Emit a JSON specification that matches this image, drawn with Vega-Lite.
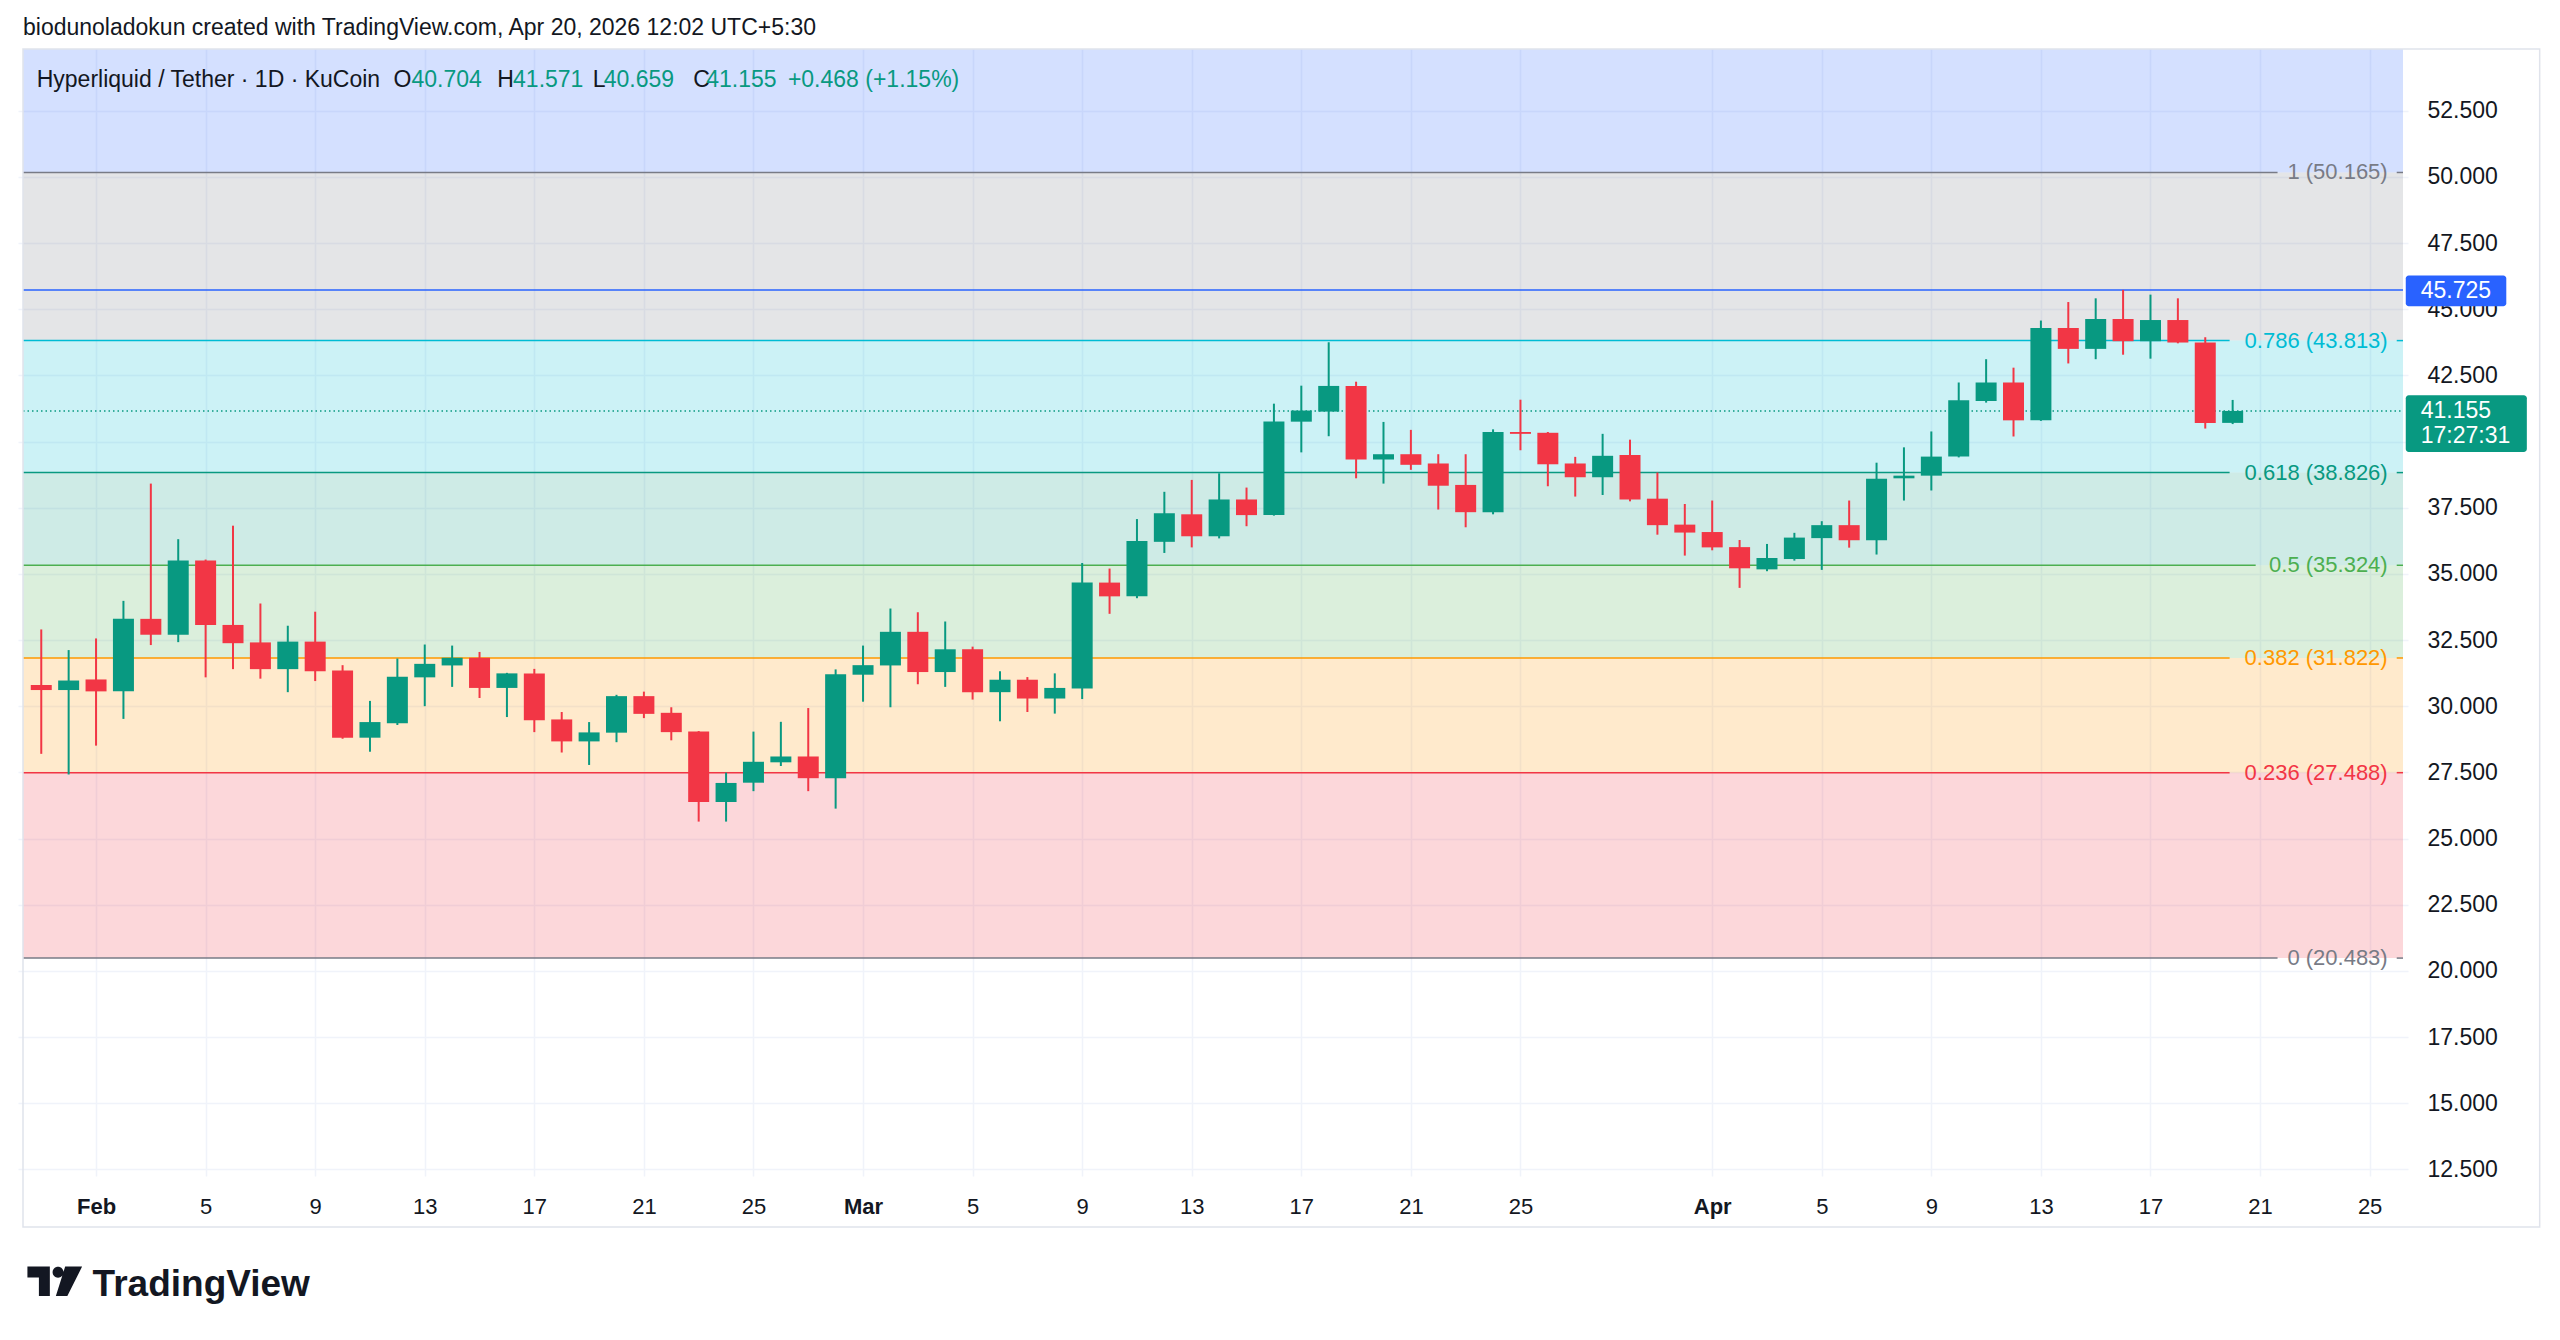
{
  "$schema": "https://vega.github.io/schema/vega-lite/v6.json",
  "autosize": {"type": "none"},
  "width": 2390,
  "height": 1127,
  "padding": {"left": 18, "top": 49, "right": 152, "bottom": 164},
  "background": "white",
  "datasets": {
    "candles": [
      {"date": "2026-01-30", "open": 30.80, "high": 32.90, "low": 28.20, "close": 30.61},
      {"date": "2026-01-31", "open": 30.61, "high": 32.12, "low": 27.42, "close": 30.97},
      {"date": "2026-02-01", "open": 31.01, "high": 32.56, "low": 28.51, "close": 30.56},
      {"date": "2026-02-02", "open": 30.56, "high": 33.98, "low": 29.52, "close": 33.30},
      {"date": "2026-02-03", "open": 33.30, "high": 38.41, "low": 32.31, "close": 32.70},
      {"date": "2026-02-04", "open": 32.70, "high": 36.31, "low": 32.42, "close": 35.50},
      {"date": "2026-02-05", "open": 35.50, "high": 35.54, "low": 31.09, "close": 33.07},
      {"date": "2026-02-06", "open": 33.07, "high": 36.82, "low": 31.40, "close": 32.38},
      {"date": "2026-02-07", "open": 32.41, "high": 33.88, "low": 31.04, "close": 31.40},
      {"date": "2026-02-08", "open": 31.40, "high": 33.04, "low": 30.53, "close": 32.44},
      {"date": "2026-02-09", "open": 32.44, "high": 33.57, "low": 30.95, "close": 31.32},
      {"date": "2026-02-10", "open": 31.35, "high": 31.55, "low": 28.77, "close": 28.81},
      {"date": "2026-02-11", "open": 28.81, "high": 30.20, "low": 28.28, "close": 29.40},
      {"date": "2026-02-12", "open": 29.36, "high": 31.80, "low": 29.29, "close": 31.11},
      {"date": "2026-02-13", "open": 31.09, "high": 32.33, "low": 30.00, "close": 31.60},
      {"date": "2026-02-14", "open": 31.54, "high": 32.29, "low": 30.73, "close": 31.83},
      {"date": "2026-02-15", "open": 31.83, "high": 32.05, "low": 30.31, "close": 30.69},
      {"date": "2026-02-16", "open": 30.69, "high": 31.26, "low": 29.59, "close": 31.24},
      {"date": "2026-02-17", "open": 31.24, "high": 31.41, "low": 29.02, "close": 29.47},
      {"date": "2026-02-18", "open": 29.50, "high": 29.78, "low": 28.25, "close": 28.67},
      {"date": "2026-02-19", "open": 28.67, "high": 29.40, "low": 27.78, "close": 29.01},
      {"date": "2026-02-20", "open": 29.00, "high": 30.43, "low": 28.64, "close": 30.38},
      {"date": "2026-02-21", "open": 30.38, "high": 30.55, "low": 29.55, "close": 29.71},
      {"date": "2026-02-22", "open": 29.75, "high": 29.96, "low": 28.71, "close": 29.02},
      {"date": "2026-02-23", "open": 29.04, "high": 29.06, "low": 25.64, "close": 26.38},
      {"date": "2026-02-24", "open": 26.38, "high": 27.49, "low": 25.64, "close": 27.10},
      {"date": "2026-02-25", "open": 27.11, "high": 29.04, "low": 26.79, "close": 27.90},
      {"date": "2026-02-26", "open": 27.88, "high": 29.41, "low": 27.74, "close": 28.10},
      {"date": "2026-02-27", "open": 28.10, "high": 29.93, "low": 26.79, "close": 27.28},
      {"date": "2026-02-28", "open": 27.28, "high": 31.39, "low": 26.13, "close": 31.21},
      {"date": "2026-03-01", "open": 31.19, "high": 32.29, "low": 30.17, "close": 31.55},
      {"date": "2026-03-02", "open": 31.54, "high": 33.69, "low": 29.96, "close": 32.81},
      {"date": "2026-03-03", "open": 32.81, "high": 33.55, "low": 30.83, "close": 31.29},
      {"date": "2026-03-04", "open": 31.29, "high": 33.20, "low": 30.73, "close": 32.15},
      {"date": "2026-03-05", "open": 32.15, "high": 32.25, "low": 30.25, "close": 30.53},
      {"date": "2026-03-06", "open": 30.53, "high": 31.32, "low": 29.43, "close": 31.00},
      {"date": "2026-03-07", "open": 31.00, "high": 31.10, "low": 29.78, "close": 30.29},
      {"date": "2026-03-08", "open": 30.29, "high": 31.24, "low": 29.72, "close": 30.69},
      {"date": "2026-03-09", "open": 30.67, "high": 35.41, "low": 30.27, "close": 34.67},
      {"date": "2026-03-10", "open": 34.67, "high": 35.20, "low": 33.49, "close": 34.15},
      {"date": "2026-03-11", "open": 34.15, "high": 37.07, "low": 34.08, "close": 36.24},
      {"date": "2026-03-12", "open": 36.21, "high": 38.10, "low": 35.79, "close": 37.29},
      {"date": "2026-03-13", "open": 37.25, "high": 38.55, "low": 36.00, "close": 36.42},
      {"date": "2026-03-14", "open": 36.42, "high": 38.80, "low": 36.34, "close": 37.81},
      {"date": "2026-03-15", "open": 37.81, "high": 38.26, "low": 36.80, "close": 37.22},
      {"date": "2026-03-16", "open": 37.22, "high": 41.43, "low": 37.20, "close": 40.76},
      {"date": "2026-03-17", "open": 40.75, "high": 42.11, "low": 39.59, "close": 41.17},
      {"date": "2026-03-18", "open": 41.13, "high": 43.75, "low": 40.20, "close": 42.10},
      {"date": "2026-03-19", "open": 42.10, "high": 42.26, "low": 38.61, "close": 39.32},
      {"date": "2026-03-20", "open": 39.32, "high": 40.74, "low": 38.41, "close": 39.52},
      {"date": "2026-03-21", "open": 39.52, "high": 40.44, "low": 38.93, "close": 39.12},
      {"date": "2026-03-22", "open": 39.17, "high": 39.52, "low": 37.43, "close": 38.33},
      {"date": "2026-03-23", "open": 38.36, "high": 39.52, "low": 36.76, "close": 37.33},
      {"date": "2026-03-24", "open": 37.33, "high": 40.46, "low": 37.25, "close": 40.36},
      {"date": "2026-03-25", "open": 40.36, "high": 41.58, "low": 39.67, "close": 40.29},
      {"date": "2026-03-26", "open": 40.33, "high": 40.36, "low": 38.31, "close": 39.14},
      {"date": "2026-03-27", "open": 39.17, "high": 39.42, "low": 37.92, "close": 38.65},
      {"date": "2026-03-28", "open": 38.65, "high": 40.29, "low": 37.98, "close": 39.46},
      {"date": "2026-03-29", "open": 39.49, "high": 40.07, "low": 37.74, "close": 37.81},
      {"date": "2026-03-30", "open": 37.84, "high": 38.83, "low": 36.48, "close": 36.84},
      {"date": "2026-03-31", "open": 36.86, "high": 37.64, "low": 35.69, "close": 36.56},
      {"date": "2026-04-01", "open": 36.58, "high": 37.77, "low": 35.89, "close": 36.00},
      {"date": "2026-04-02", "open": 36.01, "high": 36.28, "low": 34.47, "close": 35.21},
      {"date": "2026-04-03", "open": 35.17, "high": 36.13, "low": 35.10, "close": 35.60},
      {"date": "2026-04-04", "open": 35.56, "high": 36.55, "low": 35.50, "close": 36.37},
      {"date": "2026-04-05", "open": 36.35, "high": 36.99, "low": 35.15, "close": 36.84},
      {"date": "2026-04-06", "open": 36.84, "high": 37.77, "low": 35.99, "close": 36.27},
      {"date": "2026-04-07", "open": 36.27, "high": 39.20, "low": 35.73, "close": 38.59},
      {"date": "2026-04-08", "open": 38.61, "high": 39.78, "low": 37.77, "close": 38.71},
      {"date": "2026-04-09", "open": 38.71, "high": 40.38, "low": 38.15, "close": 39.43},
      {"date": "2026-04-10", "open": 39.43, "high": 42.23, "low": 39.40, "close": 41.56},
      {"date": "2026-04-11", "open": 41.53, "high": 43.11, "low": 41.47, "close": 42.23},
      {"date": "2026-04-12", "open": 42.23, "high": 42.79, "low": 40.19, "close": 40.80},
      {"date": "2026-04-13", "open": 40.80, "high": 44.57, "low": 40.78, "close": 44.29},
      {"date": "2026-04-14", "open": 44.29, "high": 45.27, "low": 42.95, "close": 43.50},
      {"date": "2026-04-15", "open": 43.50, "high": 45.41, "low": 43.11, "close": 44.63},
      {"date": "2026-04-16", "open": 44.63, "high": 45.73, "low": 43.28, "close": 43.79},
      {"date": "2026-04-17", "open": 43.79, "high": 45.55, "low": 43.13, "close": 44.59},
      {"date": "2026-04-18", "open": 44.59, "high": 45.41, "low": 43.71, "close": 43.74},
      {"date": "2026-04-19", "open": 43.74, "high": 43.94, "low": 40.49, "close": 40.70},
      {"date": "2026-04-20", "open": 40.704, "high": 41.571, "low": 40.659, "close": 41.155}
    ],
    "fib": [
      {"level": "1.618", "price": 68.51, "lower": 50.165},
      {"level": "1", "price": 50.165, "lower": 43.813, "label": "1 (50.165)"},
      {"level": "0.786", "price": 43.813, "lower": 38.826, "label": "0.786 (43.813)"},
      {"level": "0.618", "price": 38.826, "lower": 35.324, "label": "0.618 (38.826)"},
      {"level": "0.5", "price": 35.324, "lower": 31.822, "label": "0.5 (35.324)"},
      {"level": "0.382", "price": 31.822, "lower": 27.488, "label": "0.382 (31.822)"},
      {"level": "0.236", "price": 27.488, "lower": 20.483, "label": "0.236 (27.488)"},
      {"level": "0", "price": 20.483, "label": "0 (20.483)"}
    ]
  },
  "layer": [
    {
      "data": {"name": "fib"},
      "transform": [{"filter": "isValid(datum.lower)"}],
      "mark": {"type": "rect", "opacity": 0.2, "clip": true},
      "encoding": {
        "x": {"datum": {"year": 2026, "month": 1, "date": 29, "hours": 8, "utc": true}, "type": "temporal"},
        "x2": {"datum": {"year": 2026, "month": 4, "date": 26, "hours": 5, "minutes": 15, "utc": true}},
        "y": {"field": "price", "type": "quantitative"},
        "y2": {"field": "lower"},
        "color": {
          "field": "level",
          "type": "nominal",
          "legend": null,
          "scale": {
            "domain": ["1.618", "1", "0.786", "0.618", "0.5", "0.382", "0.236", "0"],
            "range": ["#2962ff", "#787b86", "#00bcd4", "#089981", "#4caf50", "#ff9800", "#f23645", "#787b86"]
          }
        }
      }
    },
    {
      "data": {"name": "fib"},
      "transform": [{"filter": "indexof(['0.786', '0.618', '0.382', '0.236'], datum.level) >= 0"}],
      "mark": {"type": "rule", "strokeWidth": 1.5},
      "encoding": {
        "x": {"datum": {"year": 2026, "month": 1, "date": 29, "hours": 8, "utc": true}, "type": "temporal"},
        "x2": {"datum": {"year": 2026, "month": 4, "date": 19, "hours": 21, "minutes": 20, "utc": true}},
        "y": {"field": "price", "type": "quantitative"},
        "color": {"field": "level", "type": "nominal", "legend": null}
      }
    },
    {
      "data": {"name": "fib"},
      "transform": [{"filter": "datum.level == '0.5'"}],
      "mark": {"type": "rule", "strokeWidth": 1.5},
      "encoding": {
        "x": {"datum": {"year": 2026, "month": 1, "date": 29, "hours": 8, "utc": true}, "type": "temporal"},
        "x2": {"datum": {"year": 2026, "month": 4, "date": 20, "hours": 20, "minutes": 10, "utc": true}},
        "y": {"field": "price", "type": "quantitative"},
        "color": {"field": "level", "type": "nominal", "legend": null}
      }
    },
    {
      "data": {"name": "fib"},
      "transform": [{"filter": "datum.level == '1' || datum.level == '0'"}],
      "mark": {"type": "rule", "strokeWidth": 1.5},
      "encoding": {
        "x": {"datum": {"year": 2026, "month": 1, "date": 29, "hours": 8, "utc": true}, "type": "temporal"},
        "x2": {"datum": {"year": 2026, "month": 4, "date": 21, "hours": 15, "minutes": 20, "utc": true}},
        "y": {"field": "price", "type": "quantitative"},
        "color": {"field": "level", "type": "nominal", "legend": null}
      }
    },
    {
      "data": {"name": "fib"},
      "transform": [{"filter": "isValid(datum.label)"}],
      "mark": {"type": "rule", "strokeWidth": 1.5},
      "encoding": {
        "x": {"datum": {"year": 2026, "month": 4, "date": 25, "hours": 23, "minutes": 45, "utc": true}, "type": "temporal"},
        "x2": {"datum": {"year": 2026, "month": 4, "date": 26, "hours": 5, "minutes": 15, "utc": true}},
        "y": {"field": "price", "type": "quantitative"},
        "color": {"field": "level", "type": "nominal", "legend": null}
      }
    },
    {
      "data": {"name": "fib"},
      "transform": [{"filter": "isValid(datum.label)"}],
      "mark": {"type": "text", "align": "right", "baseline": "middle", "font": "Liberation Sans", "fontSize": 22},
      "encoding": {
        "x": {"datum": {"year": 2026, "month": 4, "date": 25, "hours": 15, "minutes": 50, "utc": true}, "type": "temporal"},
        "y": {"field": "price", "type": "quantitative"},
        "text": {"field": "label"},
        "color": {"field": "level", "type": "nominal", "legend": null}
      }
    },
    {
      "data": {"values": [{}]},
      "mark": {"type": "rule", "color": "#2962ff", "strokeWidth": 1.5},
      "encoding": {
        "x": {"datum": {"year": 2026, "month": 1, "date": 29, "hours": 8, "utc": true}, "type": "temporal"},
        "x2": {"datum": {"year": 2026, "month": 4, "date": 26, "hours": 5, "minutes": 15, "utc": true}},
        "y": {"datum": 45.725, "type": "quantitative"}
      }
    },
    {
      "data": {"values": [{}]},
      "mark": {"type": "rule", "color": "#089981", "strokeWidth": 1.5, "strokeDash": [1.5, 3]},
      "encoding": {
        "x": {"datum": {"year": 2026, "month": 1, "date": 29, "hours": 8, "utc": true}, "type": "temporal"},
        "x2": {"datum": {"year": 2026, "month": 4, "date": 26, "hours": 5, "minutes": 15, "utc": true}},
        "y": {"datum": 41.155, "type": "quantitative"}
      }
    },
    {
      "data": {"name": "candles"},
      "mark": {"type": "rule", "strokeWidth": 2},
      "encoding": {
        "x": {
          "field": "date",
          "type": "temporal",
          "scale": {
            "type": "utc",
            "domain": [
              {"year": 2026, "month": 1, "date": 29, "hours": 8, "utc": true},
              {"year": 2026, "month": 4, "date": 26, "hours": 5, "minutes": 15, "utc": true}
            ],
            "nice": false
          },
          "axis": {
            "title": null,
            "values": [
              {"year": 2026, "month": 2, "date": 1, "utc": true},
              {"year": 2026, "month": 2, "date": 5, "utc": true},
              {"year": 2026, "month": 2, "date": 9, "utc": true},
              {"year": 2026, "month": 2, "date": 13, "utc": true},
              {"year": 2026, "month": 2, "date": 17, "utc": true},
              {"year": 2026, "month": 2, "date": 21, "utc": true},
              {"year": 2026, "month": 2, "date": 25, "utc": true},
              {"year": 2026, "month": 3, "date": 1, "utc": true},
              {"year": 2026, "month": 3, "date": 5, "utc": true},
              {"year": 2026, "month": 3, "date": 9, "utc": true},
              {"year": 2026, "month": 3, "date": 13, "utc": true},
              {"year": 2026, "month": 3, "date": 17, "utc": true},
              {"year": 2026, "month": 3, "date": 21, "utc": true},
              {"year": 2026, "month": 3, "date": 25, "utc": true},
              {"year": 2026, "month": 4, "date": 1, "utc": true},
              {"year": 2026, "month": 4, "date": 5, "utc": true},
              {"year": 2026, "month": 4, "date": 9, "utc": true},
              {"year": 2026, "month": 4, "date": 13, "utc": true},
              {"year": 2026, "month": 4, "date": 17, "utc": true},
              {"year": 2026, "month": 4, "date": 21, "utc": true},
              {"year": 2026, "month": 4, "date": 25, "utc": true}
            ],
            "labelExpr": "utcdate(datum.value) == 1 ? utcFormat(datum.value, '%b') : '' + utcdate(datum.value)",
            "labelFontWeight": {"condition": {"test": "utcdate(datum.value) == 1", "value": "bold"}, "value": "normal"},
            "labelFont": "Liberation Sans",
            "labelFontSize": 22,
            "labelColor": "#131722",
            "labelBaseline": "middle",
            "labelPadding": 30,
            "labelOverlap": false,
            "labelFlush": false,
            "domain": false,
            "ticks": false,
            "grid": true,
            "gridColor": "#f0f3fa",
            "gridWidth": 1.5
          }
        },
        "y": {
          "field": "low",
          "type": "quantitative",
          "scale": {"domain": [12.25, 54.83], "nice": false, "zero": false},
          "axis": {
            "orient": "right",
            "title": null,
            "values": [12.5, 15, 17.5, 20, 22.5, 25, 27.5, 30, 32.5, 35, 37.5, 40, 42.5, 45, 47.5, 50, 52.5],
            "labelExpr": "datum.value == 40 ? '' : format(datum.value, '.3f')",
            "labelFont": "Liberation Sans",
            "labelFontSize": 23,
            "labelColor": "#131722",
            "labelPadding": 19,
            "labelOverlap": false,
            "labelFlush": false,
            "domain": false,
            "ticks": false,
            "grid": true,
            "gridColor": "#f0f3fa",
            "gridWidth": 1.5
          }
        },
        "y2": {"field": "high"},
        "color": {"condition": {"test": "datum.close >= datum.open", "value": "#089981"}, "value": "#f23645"}
      }
    },
    {
      "data": {"name": "candles"},
      "mark": {"type": "bar", "size": 21},
      "encoding": {
        "x": {"field": "date", "type": "temporal"},
        "y": {"field": "open", "type": "quantitative"},
        "y2": {"field": "close"},
        "color": {"condition": {"test": "datum.close >= datum.open", "value": "#089981"}, "value": "#f23645"}
      }
    },
    {
      "data": {"values": [{}]},
      "mark": {"type": "rect", "color": "#2962ff", "cornerRadius": 3},
      "encoding": {
        "x": {"datum": {"year": 2026, "month": 4, "date": 26, "hours": 7, "minutes": 40, "utc": true}, "type": "temporal"},
        "x2": {"datum": {"year": 2026, "month": 4, "date": 29, "hours": 23, "minutes": 45, "utc": true}},
        "y": {"datum": 46.27, "type": "quantitative"},
        "y2": {"datum": 45.11}
      }
    },
    {
      "data": {"values": [{}]},
      "mark": {"type": "text", "align": "left", "baseline": "middle", "font": "Liberation Sans", "fontSize": 23, "color": "white"},
      "encoding": {
        "x": {"datum": {"year": 2026, "month": 4, "date": 26, "hours": 20, "minutes": 50, "utc": true}, "type": "temporal"},
        "y": {"datum": 45.70, "type": "quantitative"},
        "text": {"value": "45.725"}
      }
    },
    {
      "data": {"values": [{}]},
      "mark": {"type": "rect", "color": "#089981", "cornerRadius": 3},
      "encoding": {
        "x": {"datum": {"year": 2026, "month": 4, "date": 26, "hours": 7, "minutes": 40, "utc": true}, "type": "temporal"},
        "x2": {"datum": {"year": 2026, "month": 4, "date": 30, "hours": 17, "minutes": 45, "utc": true}},
        "y": {"datum": 41.75, "type": "quantitative"},
        "y2": {"datum": 39.60}
      }
    },
    {
      "data": {"values": [{}]},
      "mark": {"type": "text", "align": "left", "baseline": "middle", "font": "Liberation Sans", "fontSize": 23, "color": "white"},
      "encoding": {
        "x": {"datum": {"year": 2026, "month": 4, "date": 26, "hours": 20, "minutes": 50, "utc": true}, "type": "temporal"},
        "y": {"datum": 41.14, "type": "quantitative"},
        "text": {"value": "41.155"}
      }
    },
    {
      "data": {"values": [{}]},
      "mark": {"type": "text", "align": "left", "baseline": "middle", "font": "Liberation Sans", "fontSize": 23, "color": "white"},
      "encoding": {
        "x": {"datum": {"year": 2026, "month": 4, "date": 26, "hours": 20, "minutes": 50, "utc": true}, "type": "temporal"},
        "y": {"datum": 40.20, "type": "quantitative"},
        "text": {"value": "17:27:31"}
      }
    },
    {
      "data": {"values": [{}]},
      "mark": {"type": "text", "align": "left", "baseline": "middle", "font": "Liberation Sans", "fontSize": 23, "color": "#131722"},
      "encoding": {
        "x": {"datum": {"year": 2026, "month": 1, "date": 29, "hours": 8, "utc": true}, "type": "temporal"},
        "y": {"datum": 55.61, "type": "quantitative"},
        "text": {"value": "biodunoladokun created with TradingView.com, Apr 20, 2026 12:02 UTC+5:30"}
      }
    },
    {
      "data": {"values": [{}]},
      "mark": {"type": "text", "align": "left", "baseline": "middle", "font": "Liberation Sans", "fontSize": 23, "color": "#131722"},
      "encoding": {
        "x": {"datum": {"year": 2026, "month": 1, "date": 29, "hours": 20, "utc": true}, "type": "temporal"},
        "y": {"datum": 53.66, "type": "quantitative"},
        "text": {"value": "Hyperliquid / Tether · 1D · KuCoin"}
      }
    },
    {
      "data": {"values": [{}]},
      "mark": {"type": "text", "align": "left", "baseline": "middle", "font": "Liberation Sans", "fontSize": 23, "color": "#131722"},
      "encoding": {
        "x": {"datum": {"year": 2026, "month": 2, "date": 11, "hours": 20, "minutes": 40, "utc": true}, "type": "temporal"},
        "y": {"datum": 53.66, "type": "quantitative"},
        "text": {"value": "O"}
      }
    },
    {
      "data": {"values": [{}]},
      "mark": {"type": "text", "align": "left", "baseline": "middle", "font": "Liberation Sans", "fontSize": 23, "color": "#089981"},
      "encoding": {
        "x": {"datum": {"year": 2026, "month": 2, "date": 12, "hours": 12, "minutes": 23, "utc": true}, "type": "temporal"},
        "y": {"datum": 53.66, "type": "quantitative"},
        "text": {"value": "40.704"}
      }
    },
    {
      "data": {"values": [{}]},
      "mark": {"type": "text", "align": "left", "baseline": "middle", "font": "Liberation Sans", "fontSize": 23, "color": "#131722"},
      "encoding": {
        "x": {"datum": {"year": 2026, "month": 2, "date": 15, "hours": 15, "minutes": 25, "utc": true}, "type": "temporal"},
        "y": {"datum": 53.66, "type": "quantitative"},
        "text": {"value": "H"}
      }
    },
    {
      "data": {"values": [{}]},
      "mark": {"type": "text", "align": "left", "baseline": "middle", "font": "Liberation Sans", "fontSize": 23, "color": "#089981"},
      "encoding": {
        "x": {"datum": {"year": 2026, "month": 2, "date": 16, "hours": 5, "minutes": 22, "utc": true}, "type": "temporal"},
        "y": {"datum": 53.66, "type": "quantitative"},
        "text": {"value": "41.571"}
      }
    },
    {
      "data": {"values": [{}]},
      "mark": {"type": "text", "align": "left", "baseline": "middle", "font": "Liberation Sans", "fontSize": 23, "color": "#131722"},
      "encoding": {
        "x": {"datum": {"year": 2026, "month": 2, "date": 19, "hours": 3, "minutes": 10, "utc": true}, "type": "temporal"},
        "y": {"datum": 53.66, "type": "quantitative"},
        "text": {"value": "L"}
      }
    },
    {
      "data": {"values": [{}]},
      "mark": {"type": "text", "align": "left", "baseline": "middle", "font": "Liberation Sans", "fontSize": 23, "color": "#089981"},
      "encoding": {
        "x": {"datum": {"year": 2026, "month": 2, "date": 19, "hours": 12, "minutes": 46, "utc": true}, "type": "temporal"},
        "y": {"datum": 53.66, "type": "quantitative"},
        "text": {"value": "40.659"}
      }
    },
    {
      "data": {"values": [{}]},
      "mark": {"type": "text", "align": "left", "baseline": "middle", "font": "Liberation Sans", "fontSize": 23, "color": "#131722"},
      "encoding": {
        "x": {"datum": {"year": 2026, "month": 2, "date": 22, "hours": 19, "minutes": 16, "utc": true}, "type": "temporal"},
        "y": {"datum": 53.66, "type": "quantitative"},
        "text": {"value": "C"}
      }
    },
    {
      "data": {"values": [{}]},
      "mark": {"type": "text", "align": "left", "baseline": "middle", "font": "Liberation Sans", "fontSize": 23, "color": "#089981"},
      "encoding": {
        "x": {"datum": {"year": 2026, "month": 2, "date": 23, "hours": 6, "minutes": 37, "utc": true}, "type": "temporal"},
        "y": {"datum": 53.66, "type": "quantitative"},
        "text": {"value": "41.155"}
      }
    },
    {
      "data": {"values": [{}]},
      "mark": {"type": "text", "align": "left", "baseline": "middle", "font": "Liberation Sans", "fontSize": 23, "color": "#089981"},
      "encoding": {
        "x": {"datum": {"year": 2026, "month": 2, "date": 26, "hours": 6, "minutes": 10, "utc": true}, "type": "temporal"},
        "y": {"datum": 53.66, "type": "quantitative"},
        "text": {"value": "+0.468 (+1.15%)"}
      }
    },
    {
      "data": {"values": [{}]},
      "mark": {
        "type": "point",
        "filled": true,
        "opacity": 1,
        "color": "#131722",
        "size": 2992,
        "shape": "M -1 -0.54 L -0.18 -0.54 L -0.18 0.54 L -0.58 0.54 L -0.58 -0.14 L -1 -0.14 Z M -0.08 -0.33 A 0.2 0.2 0 1 1 0.32 -0.33 A 0.2 0.2 0 1 1 -0.08 -0.33 Z M 0.38 -0.54 L 1 -0.54 L 0.46 0.54 L 0.04 0.54 Z"
      },
      "encoding": {
        "x": {"datum": {"year": 2026, "month": 1, "date": 30, "hours": 11, "minutes": 50, "utc": true}, "type": "temporal"},
        "y": {"datum": 8.27, "type": "quantitative"}
      }
    },
    {
      "data": {"values": [{}]},
      "mark": {"type": "text", "align": "left", "baseline": "alphabetic", "font": "Liberation Sans", "fontSize": 37, "fontWeight": "bold", "color": "#131722"},
      "encoding": {
        "x": {"datum": {"year": 2026, "month": 1, "date": 31, "hours": 21, "utc": true}, "type": "temporal"},
        "y": {"datum": 7.73, "type": "quantitative"},
        "text": {"value": "TradingView"}
      }
    },
    {
      "data": {"values": [{}]},
      "mark": {"type": "rect", "fillOpacity": 0, "stroke": "#e0e3eb", "strokeWidth": 1.5},
      "encoding": {
        "x": {"datum": {"year": 2026, "month": 1, "date": 29, "hours": 8, "utc": true}, "type": "temporal"},
        "x2": {"datum": {"year": 2026, "month": 5, "date": 1, "hours": 5, "utc": true}},
        "y": {"datum": 54.83, "type": "quantitative"},
        "y2": {"datum": 10.32}
      }
    }
  ],
  "config": {
    "view": {"stroke": null},
    "font": "Liberation Sans"
  }
}
